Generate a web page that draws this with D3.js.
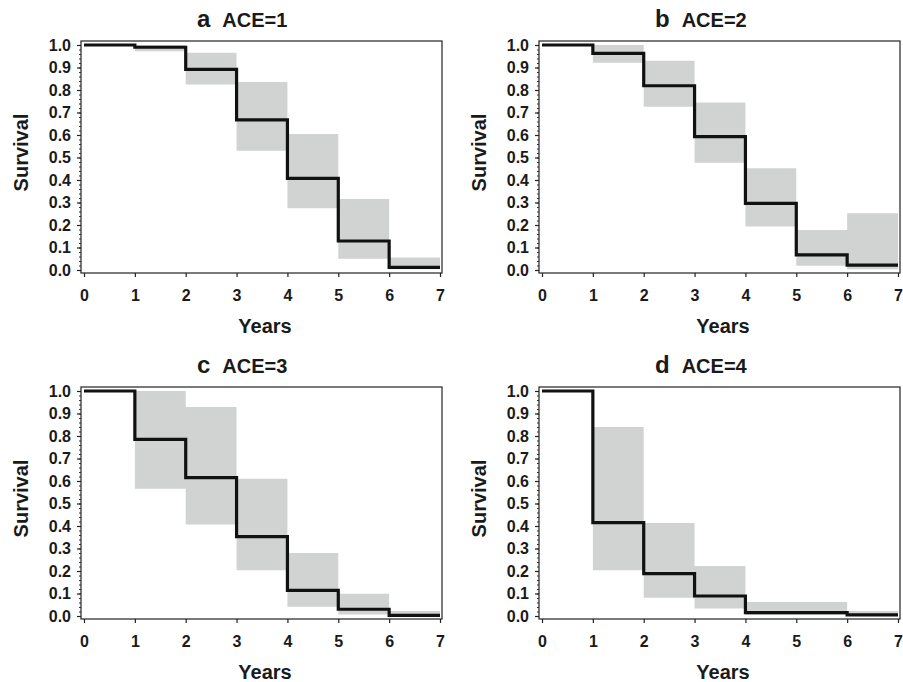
<!DOCTYPE html>
<html>
<head>
<meta charset="utf-8">
<script src="https://cdn.jsdelivr.net/npm/d3@7"></script>
<style>
  body{margin:0;background:#fff;}
  text{font-family:"Liberation Sans",Arial,Helvetica,sans-serif;font-weight:bold;fill:#1a1a1a;}
</style>
</head>
<body>
<svg id="chart" width="903" height="682"></svg>
<script>
// year boundaries of each step (survival holds from t[i] to t[i+1])
const years=[0,1,2,3,4,5,6,7];
const panelLetters=["a","b","c","d"];
const panelTitles=["ACE=1","ACE=2","ACE=3","ACE=4"];

// Kaplan-Meier estimates per interval [0-1),[1-2)...[6-7]
const survA=[1.0,0.99,0.892,0.667,0.407,0.129,0.012];
const survB=[1.0,0.963,0.819,0.593,0.296,0.067,0.022];
const survC=[1.0,0.785,0.615,0.353,0.114,0.030,0.003];
const survD=[1.0,0.415,0.188,0.089,0.015,0.015,0.005];

// confidence band per interval
const upperA=[1.0,1.0,0.966,0.836,0.604,0.316,0.056];
const lowerA=[1.0,0.972,0.825,0.530,0.274,0.050,0.003];
const upperB=[1.0,1.0,0.930,0.745,0.452,0.178,0.252];
const lowerB=[1.0,0.921,0.726,0.477,0.193,0.019,0.003];
const upperC=[1.0,1.0,0.929,0.610,0.280,0.099,0.022];
const lowerC=[1.0,0.566,0.407,0.203,0.041,0.007,0.0];
const upperD=[1.0,0.840,0.413,0.222,0.062,0.062,0.022];
const lowerD=[1.0,0.203,0.081,0.033,0.004,0.004,0.0];

const yTicks=d3.range(0,11).map(d=>d/10);
const xTicks=years;

const survs=[survA,survB,survC,survD];
const uppers=[upperA,upperB,upperC,upperD];
const lowers=[lowerA,lowerB,lowerC,lowerD];

const colLeft=[84,542];
const rowTop=[45,391];
const plotW=356;
const plotH=225;

const svg=d3.select("#chart");

const xScale=d3.scaleLinear().domain([0,7]).range([0,plotW]);
const yScale=d3.scaleLinear().domain([0,1]).range([plotH,0]);

// turn interval values into points incl. the closing point at year 7
function toPoints(vals){
    const pts=vals.map((v,i)=>({t:years[i],v:v}));
    pts.push({t:years[years.length-1],v:vals[vals.length-1]});
    return pts;
}

const line=d3.line()
    .x(d=>xScale(d.t))
    .y(d=>yScale(d.v))
    .curve(d3.curveStepAfter);

const area=d3.area()
    .x(d=>xScale(d.t))
    .y0(d=>yScale(d.lo))
    .y1(d=>yScale(d.hi))
    .curve(d3.curveStepAfter);

panelLetters.forEach(function(letter,i){
    const g=svg.append("g")
        .attr("transform","translate("+colLeft[i%2]+","+rowTop[Math.floor(i/2)]+")");

    const bandPts=uppers[i].map((u,j)=>({t:years[j],hi:u,lo:lowers[i][j]}));
    bandPts.push({t:7,hi:uppers[i][6],lo:lowers[i][6]});

    g.append("path")
        .attr("d",area(bandPts))
        .attr("fill","#d1d3d3")
        .attr("stroke","none");

    g.append("path")
        .attr("d",line(toPoints(survs[i])))
        .attr("fill","none")
        .attr("stroke","#111")
        .attr("stroke-width",3.2);

    // frame
    g.append("rect")
        .attr("x",-3)
        .attr("y",-4)
        .attr("width",plotW+5)
        .attr("height",plotH+7)
        .attr("fill","none")
        .attr("stroke","#222")
        .attr("stroke-width",1.2);

    // minor y ticks
    g.append("g")
        .attr("transform","translate(-3,0)")
        .call(d3.axisLeft(yScale).tickValues(d3.range(0,51).map(d=>d/50)).tickSize(2).tickFormat(""))
        .call(a=>a.select(".domain").remove())
        .selectAll("line").attr("stroke","#333");

    const yAxis=g.append("g")
        .attr("transform","translate(-3,0)")
        .call(d3.axisLeft(yScale).tickValues(yTicks).tickSize(4).tickPadding(6).tickFormat(d3.format(".1f")));
    yAxis.select(".domain").remove();
    yAxis.selectAll("line").attr("stroke","#222").attr("stroke-width",1.2);
    yAxis.selectAll("text").attr("font-size",16).attr("fill","#1a1a1a");

    const xAxis=g.append("g")
        .attr("transform","translate(0,"+(plotH+3)+")")
        .call(d3.axisBottom(xScale).tickValues(xTicks).tickSize(4).tickPadding(13).tickFormat(d3.format("d")));
    xAxis.select(".domain").remove();
    xAxis.selectAll("line").attr("stroke","#222").attr("stroke-width",1.2);
    xAxis.selectAll("text").attr("font-size",16).attr("fill","#1a1a1a");

    g.append("text")
        .attr("x",plotW/2+3)
        .attr("y",plotH+63)
        .attr("text-anchor","middle")
        .attr("font-size",20)
        .text("Years");

    g.append("text")
        .attr("transform","translate(-56,"+(plotH/2-5)+") rotate(-90)")
        .attr("text-anchor","middle")
        .attr("font-size",20)
        .text("Survival");

    const title=g.append("text")
        .attr("x",113)
        .attr("y",-18);
    title.append("tspan").attr("font-size",24).text(letter);
    title.append("tspan").attr("dx",12).attr("font-size",20).text(panelTitles[i]);
});
</script>
</body>
</html>
